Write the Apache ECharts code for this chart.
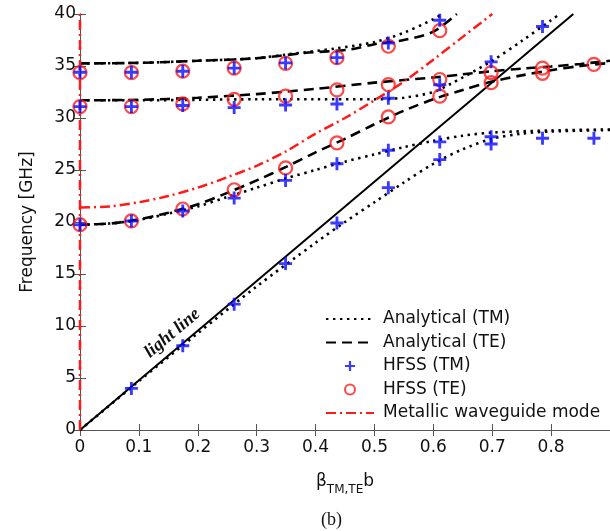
<!DOCTYPE html>
<html>
<head>
<meta charset="utf-8">
<script src="https://cdn.jsdelivr.net/npm/echarts@6/dist/echarts.min.js"></script>
<style>html,body{margin:0;padding:0;background:#fff;}#c{width:610px;height:531px;}</style>
</head>
<body>
<div id="c"></div>
<script>
// ---- data ----
const xTicks = [0, 0.1, 0.2, 0.3, 0.4, 0.5, 0.6, 0.7, 0.8];
const yTicks = [0, 5, 10, 15, 20, 25, 30, 35, 40];

// light line
const lightLine = [[0, 0], [0.8377, 40]];

// analytical TM (dotted)
const anTM1 = [[0,0],[0.1,4.7],[0.2,9.3],[0.3,13.8],[0.4,18.0],[0.45,20.0],[0.5,21.9],[0.55,23.8],[0.6,25.6],[0.65,27.0],[0.7,28.0],[0.75,28.5],[0.8,28.7],[0.9,28.85]];
const anTM2 = [[0,19.74],[0.05,19.85],[0.1,20.2],[0.15,20.8],[0.2,21.5],[0.25,22.4],[0.3,23.3],[0.35,24.2],[0.4,25.0],[0.45,25.8],[0.5,26.5],[0.55,27.2],[0.6,27.8],[0.65,28.3],[0.7,28.6],[0.8,28.8],[0.9,28.9]];
const anTM3 = [[0,31.7],[0.1,31.7],[0.2,31.75],[0.3,31.8],[0.4,31.8],[0.5,31.8],[0.55,31.95],[0.6,32.5],[0.63,33.3],[0.65,33.9],[0.7,35.5],[0.75,37.4],[0.8,39.4],[0.815,40]];
const anTM4 = [[0,35.25],[0.1,35.3],[0.2,35.5],[0.3,35.75],[0.35,36.1],[0.436,36.7],[0.5,37.3],[0.55,38.2],[0.6,39.5],[0.615,40]];

// analytical TE (dashed)
const anTE1 = [[0,19.74],[0.05,19.85],[0.1,20.25],[0.15,20.9],[0.2,21.7],[0.25,22.8],[0.3,24.0],[0.35,25.3],[0.4,26.7],[0.45,28.0],[0.5,29.4],[0.55,30.7],[0.6,31.8],[0.65,32.7],[0.7,33.5],[0.75,34.1],[0.8,34.6],[0.85,35.0],[0.9,35.3]];
const anTE2 = [[0,31.7],[0.1,31.75],[0.2,31.95],[0.3,32.3],[0.4,32.8],[0.5,33.4],[0.6,33.9],[0.65,34.2],[0.7,34.5],[0.75,34.75],[0.8,34.95],[0.85,35.2],[0.9,35.5]];
const anTE3 = [[0,35.25],[0.1,35.3],[0.2,35.5],[0.3,35.75],[0.381,36.25],[0.46,36.6],[0.5,37.1],[0.55,37.5],[0.6,38.3],[0.64,40]];

// metallic waveguide mode (dash-dot)
const metal = [[0,21.4],[0.05,21.5],[0.1,21.9],[0.15,22.5],[0.2,23.3],[0.25,24.3],[0.3,25.4],[0.35,26.8],[0.4,28.5],[0.45,30.0],[0.5,31.7],[0.55,33.5],[0.6,35.6],[0.65,37.8],[0.7,40]];
const metalVertical = [[0,0],[0,40]];

// HFSS samples
const hfssX = [0, 0.0873, 0.1745, 0.2618, 0.3491, 0.4363, 0.5236, 0.6109, 0.6981, 0.7854, 0.8727];
const hfssTM1 = [null, 4.0, 8.1, 12.1, 16.0, 19.9, 23.3, 26.0, 27.5, 28.05, 28.05];
const hfssTM2 = [19.74, 20.1, 21.06, 22.3, 24.0, 25.6, 26.9, 27.7, 28.2, null, null];
const hfssTM3 = [31.1, 31.1, 31.2, 31.0, 31.25, 31.35, 31.9, 33.2, 35.4, 38.8, null];
const hfssTM4 = [34.4, 34.4, 34.5, 34.8, 35.3, 35.8, 37.2, 39.4, null, null, null];
const hfssTE1 = [19.74, 20.1, 21.25, 23.1, 25.2, 27.6, 30.1, 32.1, 33.4, 34.3, null];
const hfssTE2 = [31.1, 31.1, 31.35, 31.8, 32.1, 32.7, 33.2, 33.7, 34.36, 34.8, 35.16];
const hfssTE3 = [34.36, 34.36, 34.5, 34.8, 35.25, 35.8, 36.9, 38.4, null, null, null];

const legendNames = ['Analytical (TM)', 'Analytical (TE)', 'HFSS (TM)', 'HFSS (TE)', 'Metallic waveguide mode'];

// ---- build ----
function pts(ys) { const out = []; ys.forEach((y, i) => { if (y !== null) out.push([hfssX[i], y]); }); return out; }
const FONT = 'DejaVu Sans';
const plusPath = 'path://M39,0h22v39h39v22h-39v39h-22v-39h-39v-22h39z';
const BLUE = '#0a0aff', RED = '#ff1a1a';

function dotted(data) {
  return { name: 'Analytical (TM)', type: 'line', data: data, symbol: 'none', smooth: 0.3, z: 3,
    itemStyle: { color: '#000' },
    lineStyle: { color: '#000', width: 2.6, type: [2.4, 4.6], cap: 'butt' } };
}
function dashed(data) {
  return { name: 'Analytical (TE)', type: 'line', data: data, symbol: 'none', smooth: 0.3, z: 3,
    itemStyle: { color: '#000' },
    lineStyle: { color: '#000', width: 2.6, type: [10, 6], cap: 'butt' } };
}

const series = [
  { name: 'light line', type: 'line', data: lightLine, symbol: 'none', z: 2,
    lineStyle: { color: '#000', width: 2 },
    markPoint: { symbol: 'circle', symbolSize: 1, itemStyle: { color: 'rgba(0,0,0,0)' },
      data: [{ coord: [0.157, 9.3] }],
      label: { show: true, formatter: 'light line', position: 'inside', rotate: 40,
        fontFamily: 'Liberation Serif', fontStyle: 'italic', fontWeight: 'bold', fontSize: 18, color: '#111' } } },
  dotted(anTM1), dotted(anTM2), dotted(anTM3), dotted(anTM4),
  dashed(anTE1), dashed(anTE2), dashed(anTE3),
  { name: 'Metallic waveguide mode', type: 'line', data: metal, symbol: 'none', smooth: 0.3, z: 4,
    itemStyle: { color: RED },
    lineStyle: { color: RED, width: 2.5, type: [10, 4, 2, 4], cap: 'butt' } },
  { name: 'Metallic waveguide mode', type: 'line', data: metalVertical, symbol: 'none', clip: false, z: 4,
    itemStyle: { color: RED },
    lineStyle: { color: RED, width: 2.5, type: [10, 4, 2, 4], cap: 'butt' } },
  { name: 'HFSS (TE)', type: 'scatter', data: pts(hfssTE1).concat(pts(hfssTE2), pts(hfssTE3)),
    symbol: 'circle', symbolSize: 13, z: 5, clip: false,
    itemStyle: { color: 'rgba(255,255,255,0)', borderColor: RED, borderWidth: 2.2 } },
  { name: 'HFSS (TM)', type: 'scatter', data: pts(hfssTM1).concat(pts(hfssTM2), pts(hfssTM3), pts(hfssTM4)),
    symbol: plusPath, symbolSize: 13, z: 6, clip: false,
    itemStyle: { color: BLUE } }
];

const axisCommon = {
  min: 0,
  axisLine: { show: true, lineStyle: { color: '#555', width: 1 } },
  axisTick: { show: true, inside: true, length: 6, lineStyle: { color: '#555' } },
  splitLine: { show: false }
};

const hideSym = { opacity: 0 };
const option = {
  animation: false,
  backgroundColor: '#fff',
  title: { text: '(b)', left: 316, top: 506,
    textStyle: { fontFamily: 'Liberation Serif', fontWeight: 'normal', fontSize: 18, color: '#111' } },
  grid: { left: 80, top: 14, width: 531, height: 416, containLabel: false },
  legend: {
    data: [
      { name: legendNames[0], itemStyle: hideSym },
      { name: legendNames[1], itemStyle: hideSym },
      { name: legendNames[2] },
      { name: legendNames[3] },
      { name: legendNames[4], itemStyle: hideSym }
    ],
    orient: 'vertical', left: 320, top: 304,
    itemWidth: 48, itemHeight: 10, itemGap: 3.5,
    textStyle: { fontFamily: FONT, fontSize: 17, color: '#111', lineHeight: 20, padding: [0, 0, 0, 4] }
  },
  xAxis: [
    Object.assign({}, axisCommon, { type: 'value', position: 'bottom', max: 0.9, interval: 0.1,
      name: '{b|β}{s|TM,TE}{b|b}', nameLocation: 'middle', nameGap: 34,
      nameTextStyle: { rich: {
        b: { fontFamily: FONT, fontSize: 17, color: '#111', verticalAlign: 'bottom', lineHeight: 26 },
        s: { fontFamily: FONT, fontSize: 12, color: '#111', verticalAlign: 'bottom', lineHeight: 12, padding: [0,0,-6,0] } } },
      axisLabel: { showMaxLabel: false, margin: 9, fontFamily: FONT, fontSize: 17, color: '#111',
        formatter: v => (v === 0 ? '0' : v.toFixed(1)) } }),
    Object.assign({}, axisCommon, { type: 'value', position: 'top', max: 0.9, interval: 0.1,
      axisLabel: { show: false } })
  ],
  yAxis: [
    Object.assign({}, axisCommon, { type: 'value', position: 'left', max: 40, interval: 5,
      name: 'Frequency [GHz]', nameLocation: 'middle', nameGap: 44,
      nameTextStyle: { fontFamily: FONT, fontSize: 17, color: '#111' },
      axisLabel: { margin: 4, fontFamily: FONT, fontSize: 17, color: '#111' } }),
    Object.assign({}, axisCommon, { type: 'value', position: 'right', max: 40, interval: 5,
      axisLabel: { show: false } })
  ],
  series: series
};

const chart = echarts.init(document.getElementById('c'), null, { renderer: 'canvas' });
chart.setOption(option);
</script>
</body>
</html>
